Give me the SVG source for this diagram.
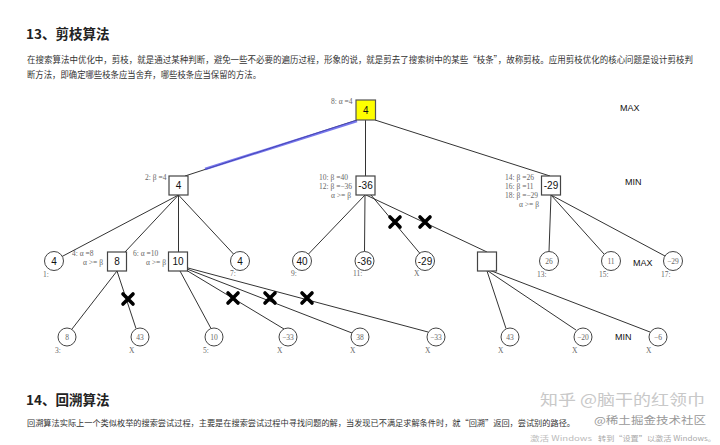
<svg xmlns="http://www.w3.org/2000/svg" width="720" height="445" viewBox="0 0 720 445">
<style>
.h{font-family:"Noto Sans CJK SC","Noto Sans",sans-serif;font-weight:bold;font-size:13.5px;fill:#222}
.p{font-family:"Noto Sans CJK SC","Noto Sans",sans-serif;font-size:8.7px;fill:#333}
.e{stroke:#333;stroke-width:1;fill:none}
.sq{fill:#fff;stroke:#444;stroke-width:1.2}
.ci{fill:#fff;stroke:#444;stroke-width:1}
.n{font-family:"Liberation Sans",Arial,sans-serif;font-size:10px;fill:#111;text-anchor:middle}
.s{font-family:"Liberation Serif","Times New Roman",serif;font-size:7.5px;fill:#666;text-anchor:middle}
.a{font-family:"Liberation Serif","Times New Roman",serif;font-size:7.5px;fill:#666}
.l{font-family:"Liberation Sans",Arial,sans-serif;font-size:9px;fill:#111}
.wm{font-family:"Noto Sans CJK SC","Noto Sans",sans-serif}
</style>
<defs>
<path id="xm" d="M-5,-5 L5,5 M5,-5 L-5,5" stroke="#000" stroke-width="3.6" stroke-linecap="round"/>
</defs>
<rect width="720" height="445" fill="#fff"/>

<text class="h" x="26" y="39">13、剪枝算法</text>
<text class="p" x="27" y="63" textLength="666" lengthAdjust="spacingAndGlyphs">在搜索算法中优化中，剪枝，就是通过某种判断，避免一些不必要的遍历过程，形象的说，就是剪去了搜索树中的某些“枝条”，故称剪枝。应用剪枝优化的核心问题是设计剪枝判</text>
<text class="p" x="27" y="78" textLength="234" lengthAdjust="spacingAndGlyphs">断方法，即确定哪些枝条应当舍弃，哪些枝条应当保留的方法。</text>

<g id="connectors">
<line class="e" x1="357" y1="120" x2="185" y2="176"/>
<line x1="357" y1="121" x2="205" y2="169" stroke="#4b4be6" stroke-width="2.6" stroke-opacity="0.75"/>
<line class="e" x1="365.5" y1="120" x2="365.5" y2="176"/>
<line class="e" x1="375" y1="120" x2="550" y2="176"/>
<line class="e" x1="178.5" y1="195" x2="62" y2="256.5"/>
<line class="e" x1="178.5" y1="195" x2="125" y2="252"/>
<line class="e" x1="178.5" y1="195" x2="178.5" y2="252"/>
<line class="e" x1="178.5" y1="195" x2="233.5" y2="254"/>
<line class="e" x1="365" y1="195" x2="308.5" y2="254"/>
<line class="e" x1="365" y1="195" x2="364.5" y2="251.5"/>
<line class="e" x1="371" y1="195" x2="420" y2="253.5"/>
<line class="e" x1="366" y1="195" x2="487" y2="252"/>
<line class="e" x1="551" y1="195" x2="549" y2="251.5"/>
<line class="e" x1="551" y1="195" x2="604" y2="254"/>
<line class="e" x1="551" y1="195" x2="665" y2="256"/>
<line class="e" x1="117" y1="271" x2="72" y2="329"/>
<line class="e" x1="117" y1="271" x2="136" y2="328.5"/>
<line class="e" x1="180" y1="271" x2="211" y2="328.5"/>
<line class="e" x1="186" y1="270" x2="284" y2="329"/>
<line class="e" x1="187" y1="269" x2="352" y2="333"/>
<line class="e" x1="188" y1="268" x2="428" y2="332"/>
<line class="e" x1="487" y1="271" x2="506" y2="328.5"/>
<line class="e" x1="488" y1="271" x2="576" y2="330"/>
<line class="e" x1="489" y1="270" x2="650" y2="332"/>
<use href="#xm" x="395" y="222"/>
<use href="#xm" x="425" y="222"/>
<use href="#xm" x="128" y="299"/>
<use href="#xm" x="233" y="298"/>
<use href="#xm" x="270" y="298"/>
<use href="#xm" x="307" y="298"/>
</g>

<g id="root">
<rect x="356" y="100" width="19.5" height="20" fill="#ffff00" stroke="#555" stroke-width="1.2"/>
<text class="n" x="365.7" y="113.5">4</text>
<text class="a" x="331" y="104">8: α =4</text>
</g>
<text class="l" x="620" y="111">MAX</text>
<text class="l" x="625" y="185">MIN</text>
<text class="l" x="633" y="266">MAX</text>
<text class="l" x="615" y="340">MIN</text>

<g id="min-left">
<rect class="sq" x="169" y="176" width="19" height="19"/>
<text class="n" x="178.5" y="189">4</text>
<text class="a" x="145" y="180">2: β =4</text>
</g>
<g id="min-mid">
<rect class="sq" x="356" y="176" width="19" height="19"/>
<text class="n" x="365.5" y="189">-36</text>
<text class="a" x="319" y="180">10: β =40</text>
<text class="a" x="319" y="189">12: β =−36</text>
<text class="a" x="331" y="198">α &gt;= β</text>
</g>
<g id="min-right">
<rect class="sq" x="541.5" y="176" width="19" height="19"/>
<text class="n" x="551" y="189">-29</text>
<text class="a" x="505" y="180">14: β =26</text>
<text class="a" x="505" y="189">16: β =11</text>
<text class="a" x="505" y="198">18: β =−29</text>
<text class="a" x="519" y="207">α &gt;= β</text>
</g>

<g id="c1"><circle class="ci" cx="54" cy="261" r="9.5"/><text class="n" x="54" y="264.5">4</text><text class="a" x="43" y="277">1:</text></g>
<g id="m8"><rect class="sq" x="107.5" y="252" width="19" height="19"/><text class="n" x="117" y="265">8</text><text class="a" x="72" y="256">4: α =8</text><text class="a" x="83" y="265">α &gt;= β</text></g>
<g id="m10"><rect class="sq" x="168.5" y="252" width="19" height="19"/><text class="n" x="178" y="265">10</text><text class="a" x="133" y="256">6: α =10</text><text class="a" x="146" y="265">α &gt;= β</text></g>
<g id="c7"><circle class="ci" cx="240" cy="261" r="9.5"/><text class="n" x="240" y="264.5">4</text><text class="a" x="230" y="276">7:</text></g>
<g id="c9"><circle class="ci" cx="302" cy="261" r="9.5"/><text class="n" x="302" y="264.5">40</text><text class="a" x="291" y="276">9:</text></g>
<g id="c11"><circle class="ci" cx="364.5" cy="261" r="9.5"/><text class="n" x="364.5" y="264.5">-36</text><text class="a" x="353" y="276">11:</text></g>
<g id="cx1"><circle class="ci" cx="425" cy="261" r="9.5"/><text class="n" x="425" y="264.5">-29</text><text class="a" x="414" y="276">X</text></g>
<g id="mE"><rect class="sq" x="477.5" y="252" width="19" height="19"/></g>
<g id="c13"><circle class="ci" cx="549" cy="261" r="9.5"/><text class="s" x="549" y="263.5">26</text><text class="a" x="537" y="277">13:</text></g>
<g id="c15"><circle class="ci" cx="611" cy="261" r="9.5"/><text class="s" x="611" y="263.5">11</text><text class="a" x="599" y="277">15:</text></g>
<g id="c17"><circle class="ci" cx="673" cy="261" r="9.5"/><text class="s" x="673" y="263.5">−29</text><text class="a" x="661" y="277">17:</text></g>

<g id="l3"><circle class="ci" cx="67" cy="337" r="9"/><text class="s" x="67" y="339.5">8</text><text class="a" x="55" y="353">3:</text></g>
<g id="lx1"><circle class="ci" cx="140" cy="337" r="9"/><text class="s" x="140" y="339.5">43</text><text class="a" x="129" y="353">X</text></g>
<g id="l5"><circle class="ci" cx="214" cy="337" r="9"/><text class="s" x="214" y="339.5">10</text><text class="a" x="203" y="353">5:</text></g>
<g id="lx2"><circle class="ci" cx="288" cy="337" r="9"/><text class="s" x="288" y="339.5">−33</text><text class="a" x="277" y="353">X</text></g>
<g id="lx3"><circle class="ci" cx="360" cy="337" r="9"/><text class="s" x="360" y="339.5">38</text><text class="a" x="350" y="353">X</text></g>
<g id="lx4"><circle class="ci" cx="436" cy="337" r="9"/><text class="s" x="436" y="339.5">−33</text><text class="a" x="425" y="353">X</text></g>
<g id="lx5"><circle class="ci" cx="510" cy="337" r="9"/><text class="s" x="510" y="339.5">43</text><text class="a" x="498" y="353">X</text></g>
<g id="lx6"><circle class="ci" cx="583" cy="337" r="9"/><text class="s" x="583" y="339.5">−20</text><text class="a" x="572" y="353">X</text></g>
<g id="lx7"><circle class="ci" cx="658" cy="337" r="9"/><text class="s" x="658" y="339.5">−6</text><text class="a" x="646" y="353">X</text></g>

<text class="h" x="26" y="405">14、回溯算法</text>
<text class="p" x="27" y="426" font-size="8.4" style="font-size:8.4px" textLength="548" lengthAdjust="spacingAndGlyphs">回溯算法实际上一个类似枚举的搜索尝试过程，主要是在搜索尝试过程中寻找问题的解，当发现已不满足求解条件时，就“回溯”返回，尝试别的路径。</text>
<text class="wm" x="540" y="405" font-size="15" fill="#c8c8c8" textLength="165" lengthAdjust="spacingAndGlyphs">知乎 @脑干的红领巾</text>
<text class="wm" x="594" y="424" font-size="10" fill="#999" textLength="112" lengthAdjust="spacingAndGlyphs">@稀土掘金技术社区</text>
<text class="wm" x="530" y="441" font-size="7" fill="#bbb" textLength="62" lengthAdjust="spacingAndGlyphs">激活 Windows</text>
<text class="wm" x="598" y="441" font-size="7" fill="#aaa" textLength="118" lengthAdjust="spacingAndGlyphs">转到“设置”以激活 Windows。</text>
</svg>
